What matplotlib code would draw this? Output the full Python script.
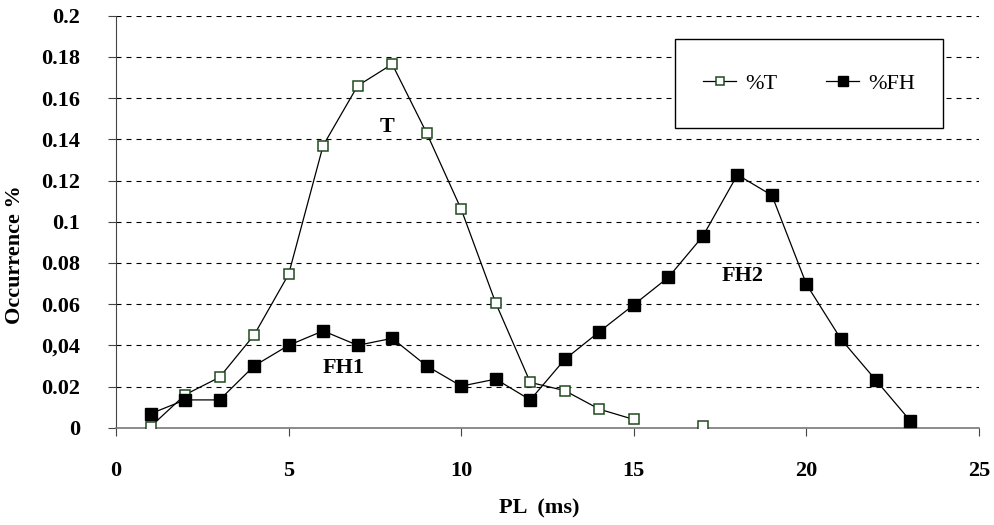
import numpy as np
import matplotlib
matplotlib.use("Agg")
import matplotlib.pyplot as plt
from matplotlib.patches import Rectangle

plt.rcParams['font.family'] = ['Liberation Serif', 'DejaVu Serif']

# ---- data ----
x_T = [1, 2, 3, 4, 5, 6, 7, 8, 9, 10, 11, 12, 13, 14, 15, 16, 17]
pct_T = [0.0005, 0.016, 0.0245, 0.045, 0.0745, 0.137, 0.166, 0.1765, 0.143,
         0.106, 0.0605, 0.022, 0.018, 0.009, 0.004, np.nan, 0.001]
x_FH = list(range(1, 24))
pct_FH = [0.0068, 0.0135, 0.0135, 0.030, 0.040, 0.047, 0.040, 0.0434, 0.030,
          0.0202, 0.0236, 0.0135, 0.0332, 0.0466, 0.0597, 0.073, 0.093, 0.1228,
          0.1128, 0.0696, 0.043, 0.0233, 0.0035]
y_ticks = [0, 0.02, 0.04, 0.06, 0.08, 0.10, 0.12, 0.14, 0.16, 0.18, 0.20]
y_ticklabels = ['0', '0.02', '0,04', '0.06', '0.08', '0.1', '0.12', '0.14',
                '0.16', '0.18', '0.2']
x_ticks = [0, 5, 10, 15, 20, 25]
annotations = [("T", 7.85, 0.146), ("FH1", 6.6, 0.029), ("FH2", 18.15, 0.0735)]

fig = plt.figure(figsize=(9.95, 5.25), dpi=100)
ax = fig.add_axes([0.1166, 0.1853, 0.8674, 0.7847])

ax.set_xlim(0, 25)
ax.set_ylim(0, 0.2)

for y in y_ticks[1:]:
    ax.axhline(y, color='black', linewidth=0.8, linestyle=(0, (4.5, 4.5)), zorder=1)

ax.plot(x_T, pct_T, color='black', linewidth=0.9, marker='s', markersize=7.2,
        markerfacecolor='white', markeredgecolor='#1f4a1f', markeredgewidth=1.1,
        label='%T', zorder=3)
ax.plot(x_FH, pct_FH, color='black', linewidth=0.9, marker='s', markersize=8,
        markerfacecolor='black', markeredgecolor='black', label='%FH', zorder=4)

for txt, tx, ty in annotations:
    ax.text(tx, ty, txt, fontsize=16, fontweight='bold', ha='center', va='center', zorder=5)

ax.set_xticks(x_ticks)
ax.set_yticks(y_ticks)
ax.set_yticklabels(y_ticklabels)
for lab in ax.get_xticklabels() + ax.get_yticklabels():
    lab.set_fontweight('bold')
    lab.set_fontsize(16)
ax.tick_params(axis='both', direction='out', length=6, width=0.8, color='#444444')
ax.tick_params(axis='x', pad=18)
ax.tick_params(axis='y', pad=20)

ax.spines['top'].set_visible(False)
ax.spines['right'].set_visible(False)
ax.spines['left'].set_color('#444444')
ax.spines['bottom'].set_color('#777777')
ax.spines['bottom'].set_linewidth(1.2)

ax.set_xlabel('PL  (ms)', fontsize=16, fontweight='bold')
ax.set_ylabel('Occurrence %', fontsize=16, fontweight='bold')
ax.xaxis.set_label_coords(0.49, -0.172)
ax.yaxis.set_label_coords(-0.106, 0.419)

# legend box
ax.add_patch(Rectangle((0.648, 0.7274), 0.31, 0.216, transform=ax.transAxes,
                       facecolor='white', edgecolor='black', linewidth=1.0, zorder=6))
leg = ax.legend(loc='center', bbox_to_anchor=(0.803, 0.835), ncol=2, frameon=False,
                fontsize=16, handlelength=1.5, columnspacing=2.2, handletextpad=0.4,
                markerscale=0.85)
leg.set_zorder(7)

fig.savefig('out.png', dpi=100)
